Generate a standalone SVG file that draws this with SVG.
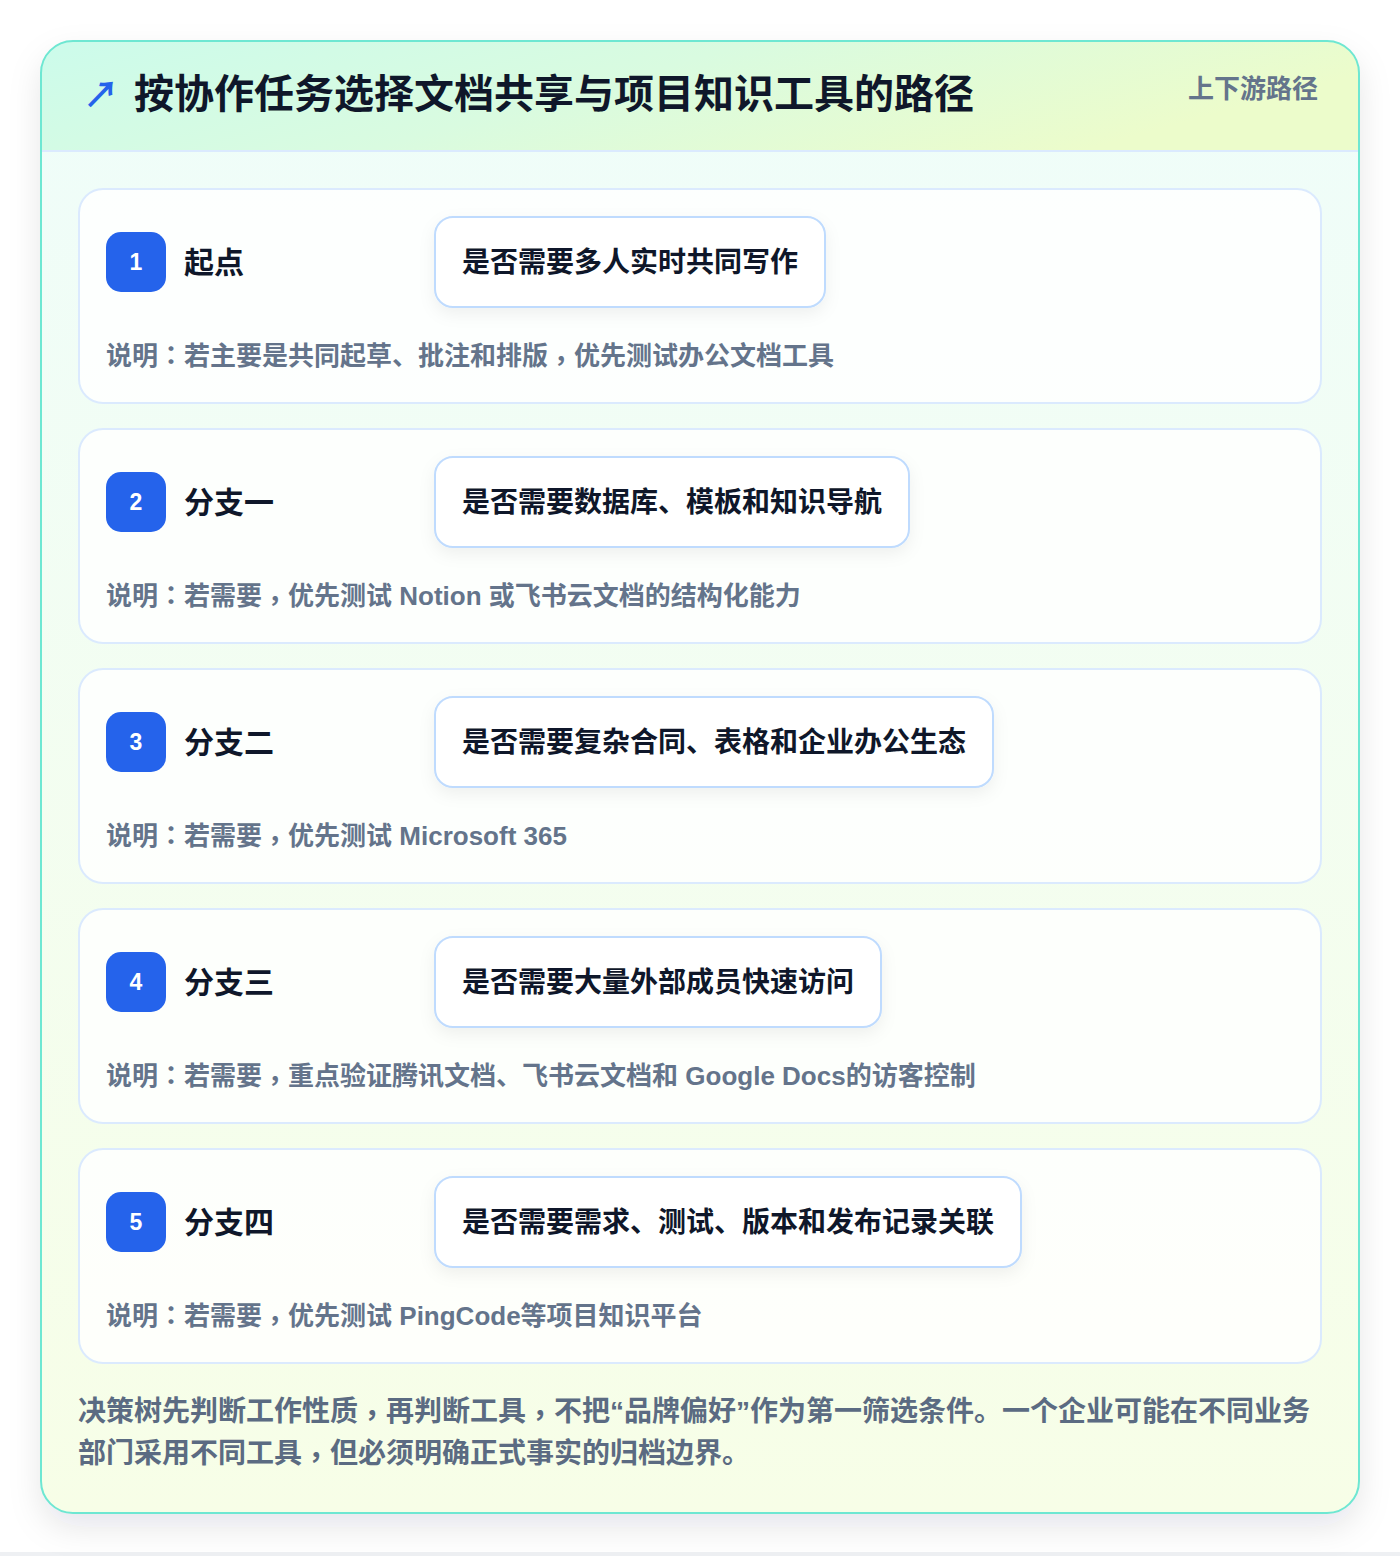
<svg xmlns="http://www.w3.org/2000/svg" width="1400" height="1556" viewBox="0 0 1400 1556">
<defs>
<linearGradient id="hdr" x1="0" y1="0" x2="1" y2="0.3">
<stop offset="0" stop-color="#ccfbeb"/>
<stop offset="0.5" stop-color="#d9fbe0"/>
<stop offset="1" stop-color="#ecfccb"/>
</linearGradient>
<linearGradient id="body" x1="0" y1="0" x2="0" y2="1">
<stop offset="0" stop-color="#effdfa"/>
<stop offset="1" stop-color="#f7fee7"/>
</linearGradient>
<filter id="sh" x="-10%" y="-10%" width="120%" height="125%">
<feDropShadow dx="0" dy="14" stdDeviation="16" flood-color="#0f172a" flood-opacity="0.10"/>
</filter>
<filter id="qsh" x="-10%" y="-20%" width="120%" height="160%">
<feDropShadow dx="0" dy="6" stdDeviation="8" flood-color="#0f172a" flood-opacity="0.06"/>
</filter>
<clipPath id="cardclip"><rect x="41" y="41" width="1318" height="1472" rx="32"/></clipPath>
</defs>
<style>
text{font-family:"Liberation Sans","Noto Sans CJK SC",sans-serif;}
.card{fill:#ffffff;fill-opacity:0.82;stroke:#dbeafe;stroke-width:2;}
.badge{fill:#2563eb;}
.num{fill:#ffffff;font-size:23px;font-weight:bold;text-anchor:middle;}
.lbl{fill:#0f172a;font-size:30px;font-weight:bold;}
.qbox{fill:#ffffff;stroke:#bfdbfe;stroke-width:2;}
.q{fill:#0f172a;font-size:28px;font-weight:bold;}
.desc{fill:#64748b;font-size:26px;font-weight:bold;}
.foot{fill:#5b6b82;font-size:28px;font-weight:bold;}
tspan.tc{font-family:"Noto Sans CJK TC",sans-serif;}
</style>
<rect x="0" y="0" width="1400" height="1556" fill="#ffffff"/>
<rect x="0" y="1552" width="1400" height="4" fill="#eef0f3"/>
<rect x="41" y="41" width="1318" height="1472" rx="32" fill="url(#body)" filter="url(#sh)"/>
<g id="header">
<rect x="41" y="41" width="1318" height="110" fill="url(#hdr)" clip-path="url(#cardclip)"/>
<line x1="42" y1="151" x2="1358" y2="151" stroke="#dbeafe" stroke-width="2"/>
<text x="83" y="108" font-size="36" font-weight="bold" fill="#2563eb">↗</text>
<text x="134" y="108" font-size="40" font-weight="bold" fill="#0f172a">按协作任务选择文档共享与项目知识工具的路径</text>
<text x="1318" y="98" font-size="26" font-weight="bold" fill="#64748b" text-anchor="end">上下游路径</text>
</g>
<rect x="41" y="41" width="1318" height="1472" rx="32" fill="none" stroke="#6ee7d2" stroke-width="2"/>
<g id="step1">
<rect class="card" x="79" y="189" width="1242" height="214" rx="24"/>
<rect class="badge" x="106" y="232" width="60" height="60" rx="15"/>
<text class="num" x="136" y="270">1</text>
<text class="lbl" x="184" y="273">起点</text>
<rect class="qbox" x="435" y="217" width="390" height="90" rx="18" filter="url(#qsh)"/>
<text class="q" x="462" y="272">是否需要多人实时共同写作</text>
<text class="desc" x="106" y="365">说明<tspan class="tc">：</tspan>若主要是共同起草、批注和排版<tspan class="tc" dy="5">，</tspan><tspan dy="-5">优先测试办公文档工具</tspan></text>
</g>
<g id="step2">
<rect class="card" x="79" y="429" width="1242" height="214" rx="24"/>
<rect class="badge" x="106" y="472" width="60" height="60" rx="15"/>
<text class="num" x="136" y="510">2</text>
<text class="lbl" x="184" y="513">分支一</text>
<rect class="qbox" x="435" y="457" width="474" height="90" rx="18" filter="url(#qsh)"/>
<text class="q" x="462" y="512">是否需要数据库、模板和知识导航</text>
<text class="desc" x="106" y="605">说明<tspan class="tc">：</tspan>若需要<tspan class="tc" dy="5">，</tspan><tspan dy="-5">优先测试 Notion 或飞书云文档的结构化能力</tspan></text>
</g>
<g id="step3">
<rect class="card" x="79" y="669" width="1242" height="214" rx="24"/>
<rect class="badge" x="106" y="712" width="60" height="60" rx="15"/>
<text class="num" x="136" y="750">3</text>
<text class="lbl" x="184" y="753">分支二</text>
<rect class="qbox" x="435" y="697" width="558" height="90" rx="18" filter="url(#qsh)"/>
<text class="q" x="462" y="752">是否需要复杂合同、表格和企业办公生态</text>
<text class="desc" x="106" y="845">说明<tspan class="tc">：</tspan>若需要<tspan class="tc" dy="5">，</tspan><tspan dy="-5">优先测试 Microsoft 365</tspan></text>
</g>
<g id="step4">
<rect class="card" x="79" y="909" width="1242" height="214" rx="24"/>
<rect class="badge" x="106" y="952" width="60" height="60" rx="15"/>
<text class="num" x="136" y="990">4</text>
<text class="lbl" x="184" y="993">分支三</text>
<rect class="qbox" x="435" y="937" width="446" height="90" rx="18" filter="url(#qsh)"/>
<text class="q" x="462" y="992">是否需要大量外部成员快速访问</text>
<text class="desc" x="106" y="1085">说明<tspan class="tc">：</tspan>若需要<tspan class="tc" dy="5">，</tspan><tspan dy="-5">重点验证腾讯文档、飞书云文档和 Google Docs的访客控制</tspan></text>
</g>
<g id="step5">
<rect class="card" x="79" y="1149" width="1242" height="214" rx="24"/>
<rect class="badge" x="106" y="1192" width="60" height="60" rx="15"/>
<text class="num" x="136" y="1230">5</text>
<text class="lbl" x="184" y="1233">分支四</text>
<rect class="qbox" x="435" y="1177" width="586" height="90" rx="18" filter="url(#qsh)"/>
<text class="q" x="462" y="1232">是否需要需求、测试、版本和发布记录关联</text>
<text class="desc" x="106" y="1325">说明<tspan class="tc">：</tspan>若需要<tspan class="tc" dy="5">，</tspan><tspan dy="-5">优先测试 PingCode等项目知识平台</tspan></text>
</g>
<g id="connectors"></g>
<g id="footer">
<text class="foot" x="78" y="1421">决策树先判断工作性质<tspan class="tc" dy="5">，</tspan><tspan dy="-5">再判断工具</tspan><tspan class="tc" dy="5">，</tspan><tspan dy="-5">不把“品牌偏好”作为第一筛选条件。一个企业可能在不同业务</tspan></text>
<text class="foot" x="78" y="1463">部门采用不同工具<tspan class="tc" dy="5">，</tspan><tspan dy="-5">但必须明确正式事实的归档边界。</tspan></text>
</g>
</svg>
